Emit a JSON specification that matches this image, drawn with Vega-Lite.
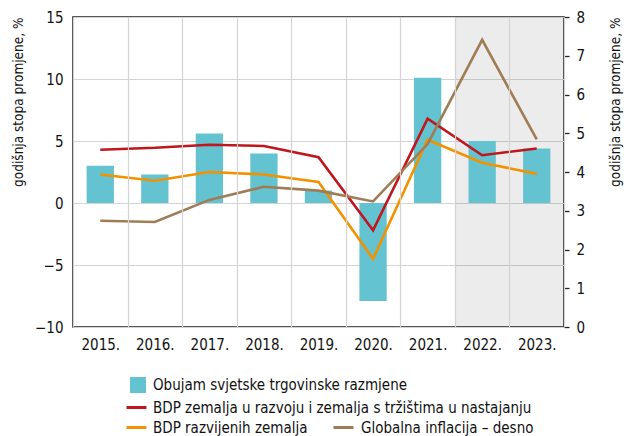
{
  "$schema": "https://vega.github.io/schema/vega-lite/v6.json",
  "autosize": "none",
  "width": 491,
  "height": 310,
  "padding": {"left": 73, "top": 17, "right": 69, "bottom": 109},
  "background": "white",
  "config": {
    "font": "DejaVu Sans Condensed",
    "view": {"stroke": "#222", "strokeWidth": 1.6},
    "axis": {"labelFont": "DejaVu Sans Condensed", "labelFontSize": 15, "labelColor": "#111", "titleFont": "DejaVu Sans Condensed", "titleFontSize": 13.5, "titleFontWeight": "normal", "titleColor": "#111", "domain": false, "ticks": false, "gridColor": "#d4d4d4", "gridWidth": 1.2},
    "legend": {"labelFont": "DejaVu Sans Condensed", "labelFontSize": 15, "labelColor": "#111", "labelLimit": 500}
  },
  "data": {"values": [
    {"year": "2015.", "trade": 3.0, "em": 4.3, "adv": 2.3, "infl": 2.74},
    {"year": "2016.", "trade": 2.3, "em": 4.45, "adv": 1.8, "infl": 2.71},
    {"year": "2017.", "trade": 5.6, "em": 4.7, "adv": 2.5, "infl": 3.28},
    {"year": "2018.", "trade": 4.0, "em": 4.6, "adv": 2.3, "infl": 3.62},
    {"year": "2019.", "trade": 1.0, "em": 3.7, "adv": 1.7, "infl": 3.52},
    {"year": "2020.", "trade": -7.9, "em": -2.2, "adv": -4.5, "infl": 3.24},
    {"year": "2021.", "trade": 10.1, "em": 6.8, "adv": 5.1, "infl": 4.72},
    {"year": "2022.", "trade": 5.0, "em": 3.85, "adv": 3.25, "infl": 7.41},
    {"year": "2023.", "trade": 4.4, "em": 4.4, "adv": 2.35, "infl": 4.84}
  ]},
  "encoding": {
    "x": {"field": "year", "type": "ordinal", "sort": null, "title": null,
      "scale": {"domain": ["2015.", "2016.", "2017.", "2018.", "2019.", "2020.", "2021.", "2022.", "2023."], "paddingInner": 0, "paddingOuter": 0},
      "axis": {"labelAngle": 0, "tickBand": "extent", "grid": true, "labelPadding": 10}}
  },
  "layer": [
    {
      "layer": [
        {
          "transform": [{"filter": {"field": "year", "oneOf": ["2022.", "2023."]}}],
          "mark": {"type": "rect", "fill": "#000", "fillOpacity": 0.075},
          "encoding": {}
        },
        {
          "mark": {"type": "bar", "width": {"band": 0.5}},
          "encoding": {
            "y": {"field": "trade", "type": "quantitative", "title": "godišnja stopa promjene, %",
              "scale": {"domain": [-10, 15], "nice": false, "zero": false},
              "axis": {"values": [-10, -5, 0, 5, 10, 15], "grid": true, "titleAnchor": "end", "labelPadding": 10, "titlePadding": 9}},
            "color": {"datum": "Obujam svjetske trgovinske razmjene", "scale": {"range": ["#63c3d0"]},
              "legend": {"orient": "none", "legendX": 56, "legendY": 359, "title": null, "symbolType": "square", "symbolSize": 256, "labelOffset": 6}}
          }
        },
        {
          "mark": {"type": "rule", "color": "#555", "strokeWidth": 1.3},
          "encoding": {"y": {"datum": 0, "type": "quantitative"}}
        },
        {
          "mark": {"type": "line", "strokeWidth": 2.6},
          "encoding": {
            "y": {"field": "em", "type": "quantitative", "title": "godišnja stopa promjene, %"},
            "color": {"datum": "BDP zemalja u razvoju i zemalja s tržištima u nastajanju", "scale": {"range": ["#c0161e"]},
              "legend": {"orient": "none", "legendX": 52, "legendY": 379, "title": null, "symbolType": "stroke", "symbolSize": 400, "symbolStrokeWidth": 3, "labelOffset": 5}}
          }
        },
        {
          "mark": {"type": "line", "strokeWidth": 2.6},
          "encoding": {
            "y": {"field": "adv", "type": "quantitative", "title": "godišnja stopa promjene, %"},
            "color": {"datum": "BDP razvijenih zemalja", "scale": {"range": ["#f39200"]},
              "legend": {"orient": "none", "legendX": 52, "legendY": 399, "title": null, "symbolType": "stroke", "symbolSize": 400, "symbolStrokeWidth": 3, "labelOffset": 5}}
          }
        }
      ],
      "resolve": {"scale": {"color": "independent"}}
    },
    {
      "mark": {"type": "line", "strokeWidth": 2.6},
      "encoding": {
        "y": {"field": "infl", "type": "quantitative", "title": "godišnja stopa promjene, %",
          "scale": {"domain": [0, 8], "nice": false},
          "axis": {"orient": "right", "values": [0, 1, 2, 3, 4, 5, 6, 7, 8], "grid": false, "ticks": true, "tickSize": 5, "tickColor": "#222", "tickWidth": 1.3, "labelPadding": 7, "titleAngle": 270, "titleAnchor": "end", "titlePadding": 38}},
        "color": {"datum": "Globalna inflacija – desno", "scale": {"range": ["#a07c55"]},
          "legend": {"orient": "none", "legendX": 259, "legendY": 399, "title": null, "symbolType": "stroke", "symbolSize": 400, "symbolStrokeWidth": 3, "labelOffset": 6}}
      }
    }
  ],
  "resolve": {"scale": {"y": "independent", "color": "independent"}}
}
